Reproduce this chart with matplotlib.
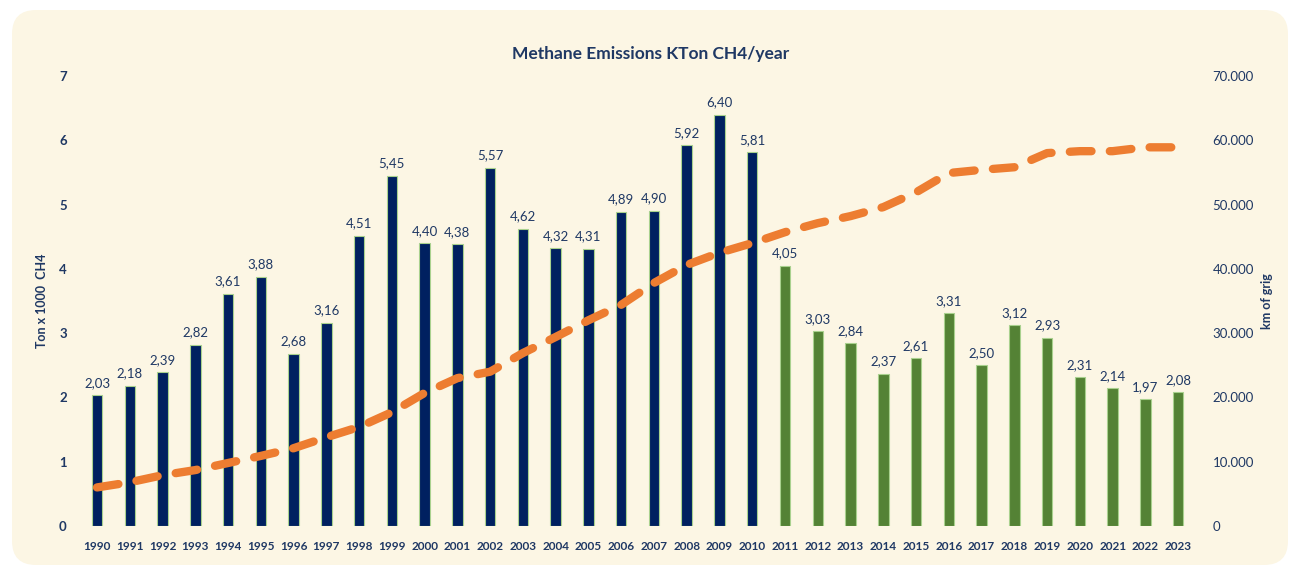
import matplotlib.pyplot as plt
from matplotlib.patches import FancyBboxPatch
from matplotlib.ticker import FuncFormatter

plt.rcParams['font.family'] = ['Lato', 'DejaVu Sans']

years = list(range(1990, 2024))
emissions = [2.03, 2.18, 2.39, 2.82, 3.61, 3.88, 2.68, 3.16, 4.51, 5.45,
             4.40, 4.38, 5.57, 4.62, 4.32, 4.31, 4.89, 4.90, 5.92, 6.40,
             5.81, 4.05, 3.03, 2.84, 2.37, 2.61, 3.31, 2.50, 3.12, 2.93,
             2.31, 2.14, 1.97, 2.08]
grid_km = [6000, 6800, 7900, 8700, 9800, 10900, 12100, 13800, 15400, 17700,
           20700, 23000, 24000, 26900, 29400, 32000, 34400, 37800, 40600, 42500,
           44000, 45700, 47100, 48200, 49600, 51900, 54900, 55400, 55800, 58000,
           58300, 58300, 58900, 58900]

navy = '#002060'
green = '#548235'
orange = '#ED7D31'
text_col = '#1F3864'
cream = '#FCF6E4'

fig = plt.figure(figsize=(12.9, 5.71), dpi=100)

# background card, in pixel units
bgax = fig.add_axes([0, 0, 1, 1], zorder=-5)
bgax.set_xlim(0, 1290)
bgax.set_ylim(0, 571)
bgax.axis('off')
bgax.add_patch(FancyBboxPatch((12, 6), 1276, 555, boxstyle='round,pad=0,rounding_size=24',
                              facecolor=cream, edgecolor='none'))

ax = fig.add_axes([0.0625, 0.0788, 0.8635, 0.7882])
ax.set_facecolor('none')
x = list(range(len(years)))
colors = [navy if y <= 2010 else green for y in years]
ax.bar(x, emissions, width=0.32, color=colors, edgecolor='#A9D18E', linewidth=0.8, zorder=2)
for xi, v in zip(x, emissions):
    ax.text(xi, v + 0.1, f'{v:.2f}'.replace('.', ','), ha='center', va='bottom',
            fontsize=9.5, color=text_col, zorder=3)

ax.set_xlim(-0.5, len(years) - 0.5)
ax.set_ylim(0, 7)
ax.set_xticks(x)
ax.set_xticklabels([str(y) for y in years], fontsize=8.5, fontweight='bold', color=text_col)
ax.set_yticks(range(8))
ax.tick_params(axis='y', labelsize=9.5, labelcolor=text_col, length=0, pad=10)
for lab in ax.get_yticklabels():
    lab.set_fontweight('bold')
ax.tick_params(axis='x', length=0, pad=11)
for s in ax.spines.values():
    s.set_visible(False)
ax.set_ylabel('Ton x 1000  CH4', fontsize=9, fontweight='bold', color=text_col, labelpad=8)

ax2 = ax.twinx()
ax2.plot(x, grid_km, color=orange, linewidth=6, dashes=(2.6, 2.2),
         dash_capstyle='round', solid_capstyle='round', zorder=4)
ax2.set_ylim(0, 70000)
ax2.set_yticks(range(0, 70001, 10000))
ax2.yaxis.set_major_formatter(FuncFormatter(lambda v, p: '0' if v == 0 else f'{int(v):,}'.replace(',', '.')))
ax2.tick_params(axis='y', labelsize=9.5, labelcolor=text_col, length=0, pad=13)
for s in ax2.spines.values():
    s.set_visible(False)
ax2.set_ylabel('km of grig', fontsize=9, fontweight='bold', color=text_col, rotation=90, labelpad=5)

fig.text(0.504, 0.905, 'Methane Emissions KTon CH4/year', ha='center', va='center',
         fontsize=12.5, fontweight='bold', color=text_col)

fig.savefig('out.png', dpi=100)
